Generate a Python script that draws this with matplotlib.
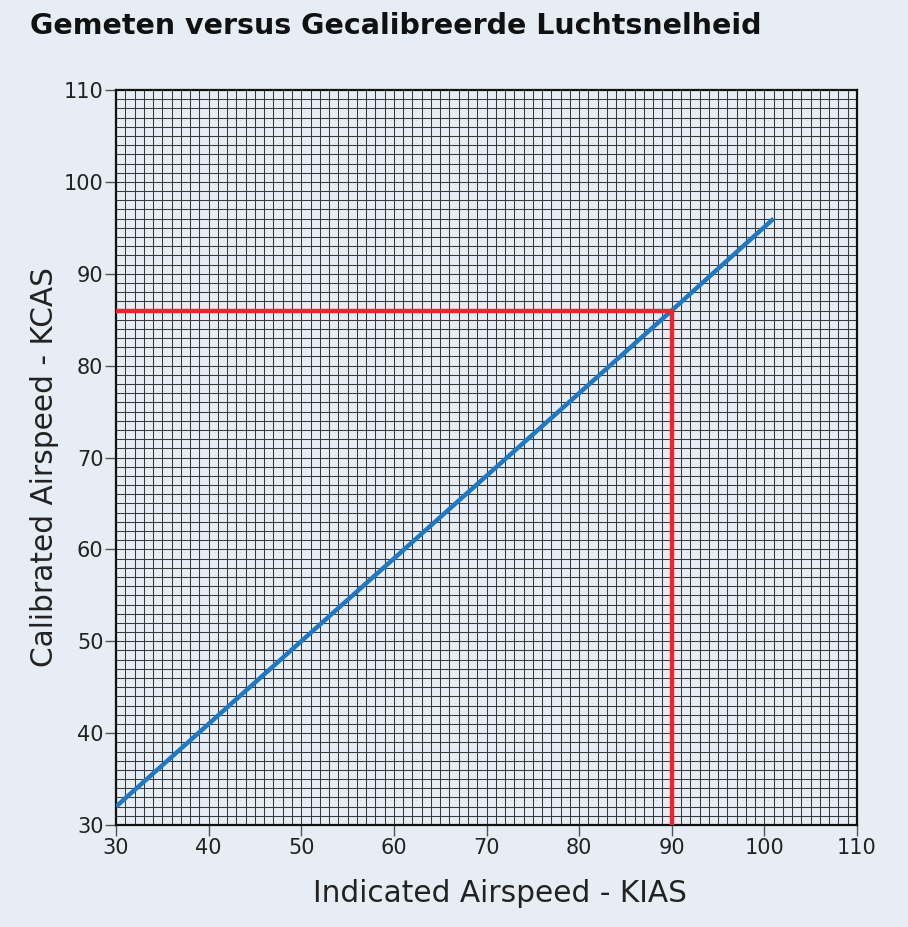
import numpy as np
import matplotlib
matplotlib.use("Agg")
import matplotlib.pyplot as plt

# data
kias = [30, 40, 50, 60, 70, 80, 90, 101]
kcas = [32, 41, 50, 59, 68, 77, 86, 96]
ref_kias = 90
ref_kcas = 86
ticks = [30, 40, 50, 60, 70, 80, 90, 100, 110]

bg = "#e6edf4"
txt = "#222222"

fig = plt.figure(figsize=(9.08, 9.27), dpi=100, facecolor=bg)
ax = fig.add_axes([116 / 908, 102 / 927, 741 / 908, 735 / 927], facecolor=bg)

# fine grid every 1 knot
minor = np.arange(31, 110, 1)
for v in minor:
    ax.axvline(v, color="#3a3a3a", lw=0.75, zorder=1)
    ax.axhline(v, color="#3a3a3a", lw=0.75, zorder=1)

ax.plot(kias, kcas, color="#1f78c1", lw=3.2, solid_capstyle="butt", zorder=3)
ax.plot([30, ref_kias, ref_kias], [ref_kcas, ref_kcas, 30],
        color="#e8262b", lw=3.2, solid_joinstyle="miter", zorder=4)

ax.set_xlim(30, 110)
ax.set_ylim(30, 110)
ax.set_xticks(ticks)
ax.set_yticks(ticks)
ax.tick_params(direction="out", length=8, width=1.0, color="#555555",
               labelsize=15, labelcolor=txt, pad=1)
for s in ax.spines.values():
    s.set_linewidth(1.6)
    s.set_color("#111111")

ax.set_xlabel("Indicated Airspeed - KIAS", fontsize=21.3, color=txt)
ax.set_ylabel("Calibrated Airspeed - KCAS", fontsize=21.3, color=txt)
ax.xaxis.set_label_coords(0.518, -0.074)
ax.yaxis.set_label_coords(-0.077, 0.487)

fig.text(30 / 908, 1 - 12 / 927, "Gemeten versus Gecalibreerde Luchtsnelheid",
         fontsize=20.5, fontweight="bold", color="#111111", va="top", ha="left")

fig.savefig("out.png", dpi=100, facecolor=bg)
